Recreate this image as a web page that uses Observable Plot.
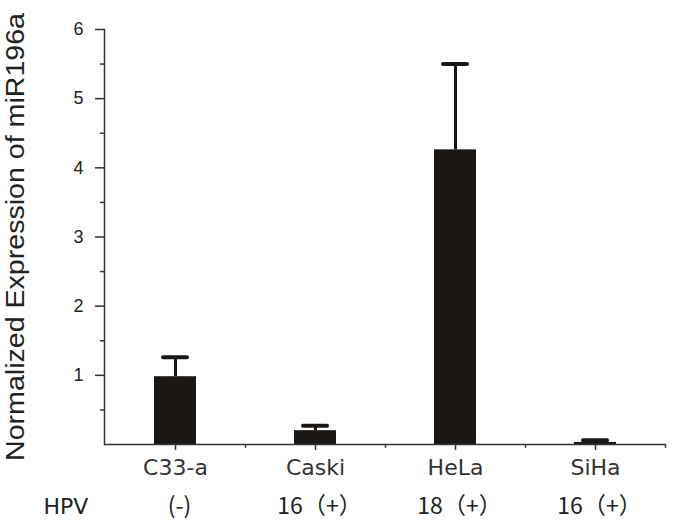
<!DOCTYPE html>
<html>
<head>
<meta charset="utf-8">
<script src="https://cdn.jsdelivr.net/npm/d3@7"></script>
<script src="https://cdn.jsdelivr.net/npm/@observablehq/plot@0.6"></script>
<style>
  html, body { margin: 0; padding: 0; background: #fff; }
</style>
</head>
<body>
<div id="chart"></div>
<script>
const categories = ["C33-a", "Caski", "HeLa", "SiHa"];
const means = [0.98, 0.2, 4.26, 0.03];
const upper = [1.26, 0.27, 5.5, 0.06];
const hpvLabels = ["(-)", "16（+）", "18（+）", "16（+）"];
const yTicks = [1, 2, 3, 4, 5, 6];
const yMinorTicks = [0.5, 1.5, 2.5, 3.5, 4.5, 5.5];
const yLabel = "Normalized Expression of miR196a";
const rowLabel = "HPV";

const data = categories.map((c, i) => ({cat: c, mean: means[i], upper: upper[i], hpv: hpvLabels[i]}));
const ink = "#1b1714";

const chart = Plot.plot({
  width: 675,
  height: 526,
  marginLeft: 104,
  marginRight: 10,
  marginTop: 29,
  marginBottom: 82,
  style: {fontFamily: "'Liberation Sans', Arial, sans-serif", fontSize: "18px", background: "#fff", color: "#222"},
  x: {domain: categories, paddingInner: 0.7, paddingOuter: 0.35},
  y: {domain: [0, 6]},
  marks: [
    Plot.barY(data, {x: "cat", y: "mean", fill: ink}),
    Plot.ruleX(data, {x: "cat", y1: "mean", y2: "upper", stroke: ink, strokeWidth: 3}),
    Plot.tickY(data, {x: "cat", y: "upper", stroke: ink, strokeWidth: 4, insetLeft: 9, insetRight: 9, strokeLinecap: "round"}),
    Plot.ruleY([0], {stroke: "#333", strokeWidth: 1.5}),
    Plot.frame({anchor: "left", stroke: "#333", strokeWidth: 1.5}),
    Plot.axisY(yTicks, {tickSize: 9, tickPadding: 12, tickFormat: d3.format("d"), stroke: "#333", strokeWidth: 1.5,
      label: yLabel, labelAnchor: "center", labelArrow: "none", labelOffset: 98}),
    Plot.axisY(yMinorTicks, {tickSize: 4, tickFormat: () => "", label: null, stroke: "#333", strokeWidth: 1.5}),
    Plot.axisX({tickSize: 6, tickPadding: 9, fontSize: 22, fontFamily: "'DejaVu Sans', sans-serif", label: null, stroke: "#333", strokeWidth: 1.5, fill: "#333"}),
    Plot.ruleX(categories, {x: d => d, dx: 70, y1: 0, y2: -0.055, stroke: "#333", strokeWidth: 1.5}),
    Plot.text(data, {x: "cat", text: "hpv", frameAnchor: "bottom", dy: 62, dx: 4, lineAnchor: "middle", fontSize: 23, fontFamily: "'Noto Sans CJK SC', sans-serif", fill: "#222"}),
    Plot.text([rowLabel], {frameAnchor: "bottom-left", dx: -61, dy: 62, lineAnchor: "middle", textAnchor: "start", fontSize: 22, fontFamily: "'DejaVu Sans', sans-serif", fill: "#222"})
  ]
});

document.getElementById("chart").appendChild(chart);
// stretch the y-axis title along its length to match the reference
for (const t of chart.querySelectorAll("text")) {
  if (t.textContent === yLabel) {
    t.setAttribute("font-size", "25");
    t.setAttribute("textLength", "448");
    t.setAttribute("lengthAdjust", "spacingAndGlyphs");
  }
}
</script>
</body>
</html>
